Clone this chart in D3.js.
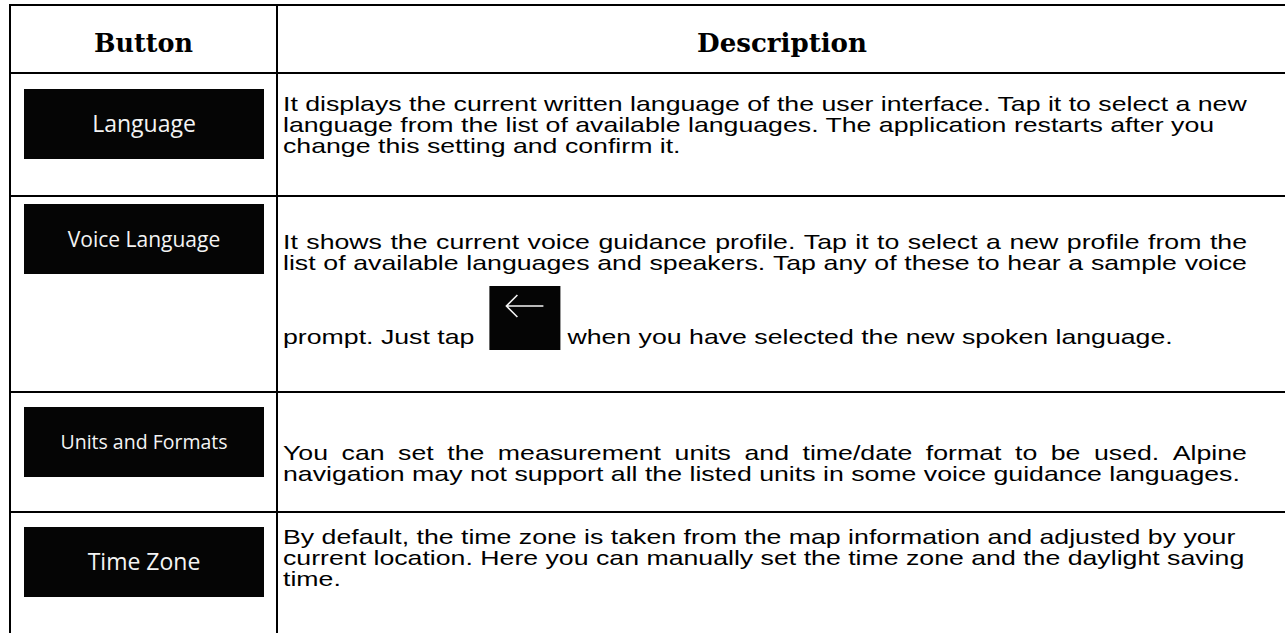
<!DOCTYPE html>
<html><head><meta charset="utf-8">
<script src="https://cdn.jsdelivr.net/npm/d3@7"></script>
<style>html,body{margin:0;padding:0;background:#fff;overflow:hidden}</style>
</head><body><svg id="c" width="1285" height="633"></svg>
<script>
// ---- data ----
const headers = ["Button", "Description"];
const buttonLabels = ["Language", "Voice Language", "Units and Formats", "Time Zone"];
const descLanguage = [
  "It displays the current written language of the user interface. Tap it to select a new",
  "language from the list of available languages. The application restarts after you",
  "change this setting and confirm it."];
const descVoice = [
  "It shows the current voice guidance profile. Tap it to select a new profile from the",
  "list of available languages and speakers. Tap any of these to hear a sample voice",
  "prompt. Just tap {icon} when you have selected the new spoken language."];
const descUnits = [
  "You can set the measurement units and time/date format to be used. Alpine",
  "navigation may not support all the listed units in some voice guidance languages."];
const descTime = [
  "By default, the time zone is taken from the map information and adjusted by your",
  "current location. Here you can manually set the time zone and the daylight saving",
  "time."];
const descriptions = [descLanguage, descVoice, descUnits, descTime];
const justified = [[false,false,false],[true,true,false],[true,false],[false,false,false]];

// ---- layout ----
const svg = d3.select("#c");
const rowEdges = [5, 73, 196, 392, 512];
const colEdges = [10, 277, 1287];
const bodyFont = "'Liberation Sans', Arial, sans-serif";
const bodySize = 20;
const textLeft = 283, textRight = 1247;
const baselines = [[111,132,153],[249,270,344],[460,481],[544,565,586]];
const boxTops = [89, 204, 407, 527];
const labelSizes = [23, 21, 19.5, 23];

// borders
const g = svg.append("g");
rowEdges.forEach(e => g.append("line").attr("x1", colEdges[0]-1).attr("x2", colEdges[2]).attr("y1", e).attr("y2", e).attr("stroke","#000").attr("stroke-width",2));
colEdges.forEach(c => g.append("line").attr("x1", c).attr("x2", c).attr("y1", rowEdges[0]-1).attr("y2", 640).attr("stroke","#000").attr("stroke-width",2));

function fitSize(sel, target) {
  const w = sel.node().getComputedTextLength();
  const fs = parseFloat(sel.attr("font-size"));
  sel.attr("font-size", fs * target / w);
}
const hdrTargets = [99, 170];
headers.forEach((h,i) => {
  const t = svg.append("text").text(h)
    .attr("x", (colEdges[i]+colEdges[i+1])/2).attr("y", 52)
    .attr("text-anchor","middle").attr("font-family","'DejaVu Serif', serif")
    .attr("font-weight","bold").attr("font-size",24).attr("fill","#000");
  fitSize(t, hdrTargets[i]);
});

// buttons
buttonLabels.forEach((lab,i) => {
  svg.append("rect").attr("x",24).attr("y",boxTops[i]).attr("width",240).attr("height",70).attr("fill","#050505");
  svg.append("text").text(lab)
    .attr("x", 144).attr("y", boxTops[i]+35+labelSizes[i]*0.36)
    .attr("text-anchor","middle").attr("font-family","'Open Sans', sans-serif")
    .attr("font-size",labelSizes[i]).attr("fill","#f4f4f4");
});

function measure(str){
  const p = svg.append("text").attr("font-family",bodyFont).attr("font-size",bodySize).text(str);
  const w = p.node().getComputedTextLength(); p.remove(); return w;
}
const sx = (textRight - textLeft) / measure(descLanguage[0]);

descriptions.forEach((lines, r) => {
  lines.forEach((line, li) => {
    const base = baselines[r][li];
    if (line.includes("{icon}")) {
      const [a, b] = line.split("{icon}").map(s => s.trim());
      const t1 = svg.append("g").attr("transform",`translate(${textLeft},${base}) scale(${sx},1)`);
      t1.append("text").attr("font-family",bodyFont).attr("font-size",bodySize).attr("fill","#000").text(a);
      const wa = measure(a) * sx;
      const ix = textLeft + wa + 15;
      svg.append("rect").attr("x", ix).attr("y", base-58).attr("width",71).attr("height",64).attr("fill","#050505");
      const cy = base - 38, ax0 = ix+17, ax1 = ix+54;
      svg.append("path").attr("d",`M${ax1},${cy}H${ax0}M${ax0+11},${cy-11}L${ax0},${cy}L${ax0+11},${cy+11}`)
        .attr("stroke","#f4f4f4").attr("stroke-width",1.6).attr("fill","none");
      const t2 = svg.append("g").attr("transform",`translate(${ix+71+7},${base}) scale(${sx},1)`);
      t2.append("text").attr("font-family",bodyFont).attr("font-size",bodySize).attr("fill","#000").text(b);
      return;
    }
    const grp = svg.append("g").attr("transform",`translate(${textLeft},${base}) scale(${sx},1)`);
    const txt = grp.append("text").attr("font-family",bodyFont).attr("font-size",bodySize).attr("fill","#000");
    if (justified[r][li]) {
      const words = line.split(" ");
      const widths = words.map(measure);
      const total = d3.sum(widths);
      const gap = ((textRight - textLeft)/sx - total) / (words.length - 1);
      let cx = 0;
      words.forEach((w,k) => { txt.append("tspan").attr("x", cx).text(w); cx += widths[k] + gap; });
    } else {
      txt.text(line);
    }
  });
});
</script></body></html>
